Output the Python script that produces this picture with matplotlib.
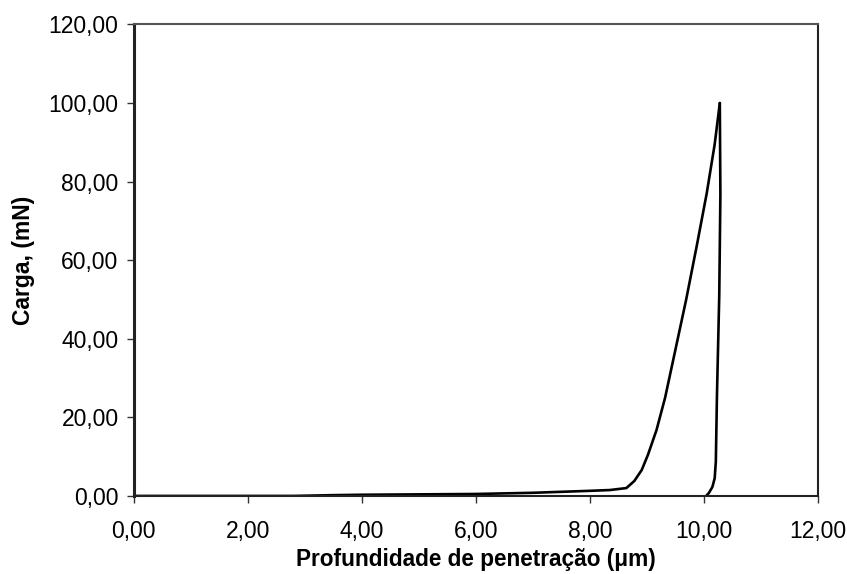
import numpy as np
import matplotlib; matplotlib.use("Agg")
import matplotlib.pyplot as plt
from matplotlib.ticker import FuncFormatter

# loading branch (depth um, load mN)
load_x = [0.0, 2.8, 3.5, 4.0, 5.0, 6.0, 7.0, 8.0, 8.35, 8.64, 8.78, 8.91, 9.02, 9.17,
          9.32, 9.52, 9.69, 9.88, 10.05, 10.19, 10.28]
load_y = [0.0, 0.0, 0.2, 0.3, 0.4, 0.5, 0.8, 1.3, 1.5, 2.0, 3.8, 6.6, 10.5, 16.8,
          25.0, 38.5, 50.0, 64.0, 77.0, 89.5, 100.0]
# unloading branch
unl_x = [10.28, 10.29, 10.27, 10.23, 10.21, 10.19, 10.15, 10.09, 10.04]
unl_y = [100.0, 76.6, 51.0, 25.7, 8.7, 4.5, 2.3, 0.8, 0.0]

xticks = np.arange(0, 13, 2)
yticks = np.arange(0, 121, 20)

plt.rcParams["font.family"] = ["Liberation Sans", "DejaVu Sans"]

fig = plt.figure(figsize=(8.47, 5.74), dpi=100)
ax = fig.add_axes([0.158, 0.136, 0.8076, 0.8214])
ax.plot(load_x, load_y, color="black", lw=1.9, solid_joinstyle="round", solid_capstyle="round")
ax.plot(unl_x, unl_y, color="black", lw=1.9, solid_joinstyle="round", solid_capstyle="round")

ax.set_xlim(0, 12); ax.set_ylim(0, 120)
ax.set_xticks(xticks); ax.set_yticks(yticks)
fmt = FuncFormatter(lambda v, p: f"{v:.2f}".replace(".", ","))
ax.xaxis.set_major_formatter(fmt); ax.yaxis.set_major_formatter(fmt)
ax.tick_params(direction="out", length=5, width=1, labelsize=16.5, color="#333333")
ax.tick_params(axis="x", pad=12)
ax.tick_params(axis="y", pad=6)
for s in ax.spines.values():
    s.set_linewidth(1.5); s.set_color("#222222")
ax.spines["left"].set_linewidth(2.2)
ax.spines["top"].set_color("#555555")
ax.set_xlabel("Profundidade de penetração (\u03bcm)", fontsize=16.3, fontweight="bold", labelpad=4)
ax.set_ylabel("Carga, (mN)", fontsize=16.5, fontweight="bold", labelpad=10)

fig.savefig("out.png", dpi=100)
